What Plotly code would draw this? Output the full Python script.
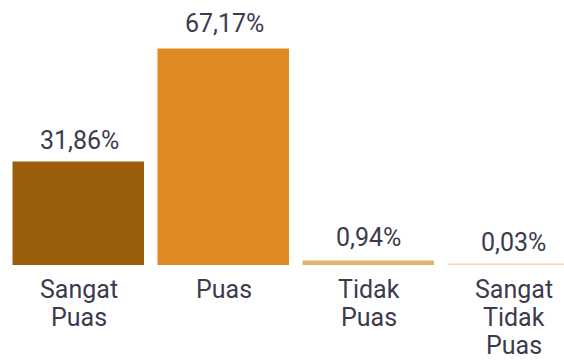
import plotly.graph_objects as go

categories = ["Sangat<br>Puas", "Puas", "Tidak<br>Puas", "Sangat<br>Tidak<br>Puas"]
values = [31.86, 67.17, 0.94, 0.03]
value_labels = ["31,86%", "67,17%", "0,94%", "0,03%"]
colors = ["#9A5E0C", "#DD8B22", "#E2B36A", "#EFDAB4"]

x = list(range(len(categories)))
TEXT = "#3C3B4E"

fig = go.Figure()
fig.add_trace(go.Bar(
    x=x, y=values, width=0.897,
    marker=dict(color=colors, line=dict(color=colors, width=1.5)),
    hoverinfo="skip",
))

label_shift = [6, 10, 8, 6]
for i, (v, t) in enumerate(zip(values, value_labels)):
    fig.add_annotation(x=i, y=v, text=t, showarrow=False, yanchor="bottom",
                       yshift=label_shift[i],
                       font=dict(family="Roboto", size=25, color=TEXT))
for i, c in enumerate(categories):
    for k, line in enumerate(c.split("<br>")):
        fig.add_annotation(x=i, y=0, text=line, showarrow=False, yanchor="top",
                           yshift=-8 - 28 * k,
                           font=dict(family="Roboto", size=25, color=TEXT))

fig.update_layout(
    width=564, height=360,
    margin=dict(l=0, r=0, t=0, b=95),
    paper_bgcolor="white", plot_bgcolor="white",
    showlegend=False,
    bargap=0,
    xaxis=dict(range=[-0.545, 3.345], visible=False, showgrid=False, zeroline=False),
    yaxis=dict(range=[0, 82.8], visible=False, showgrid=False, zeroline=False),
)

fig.write_html("out.html")
